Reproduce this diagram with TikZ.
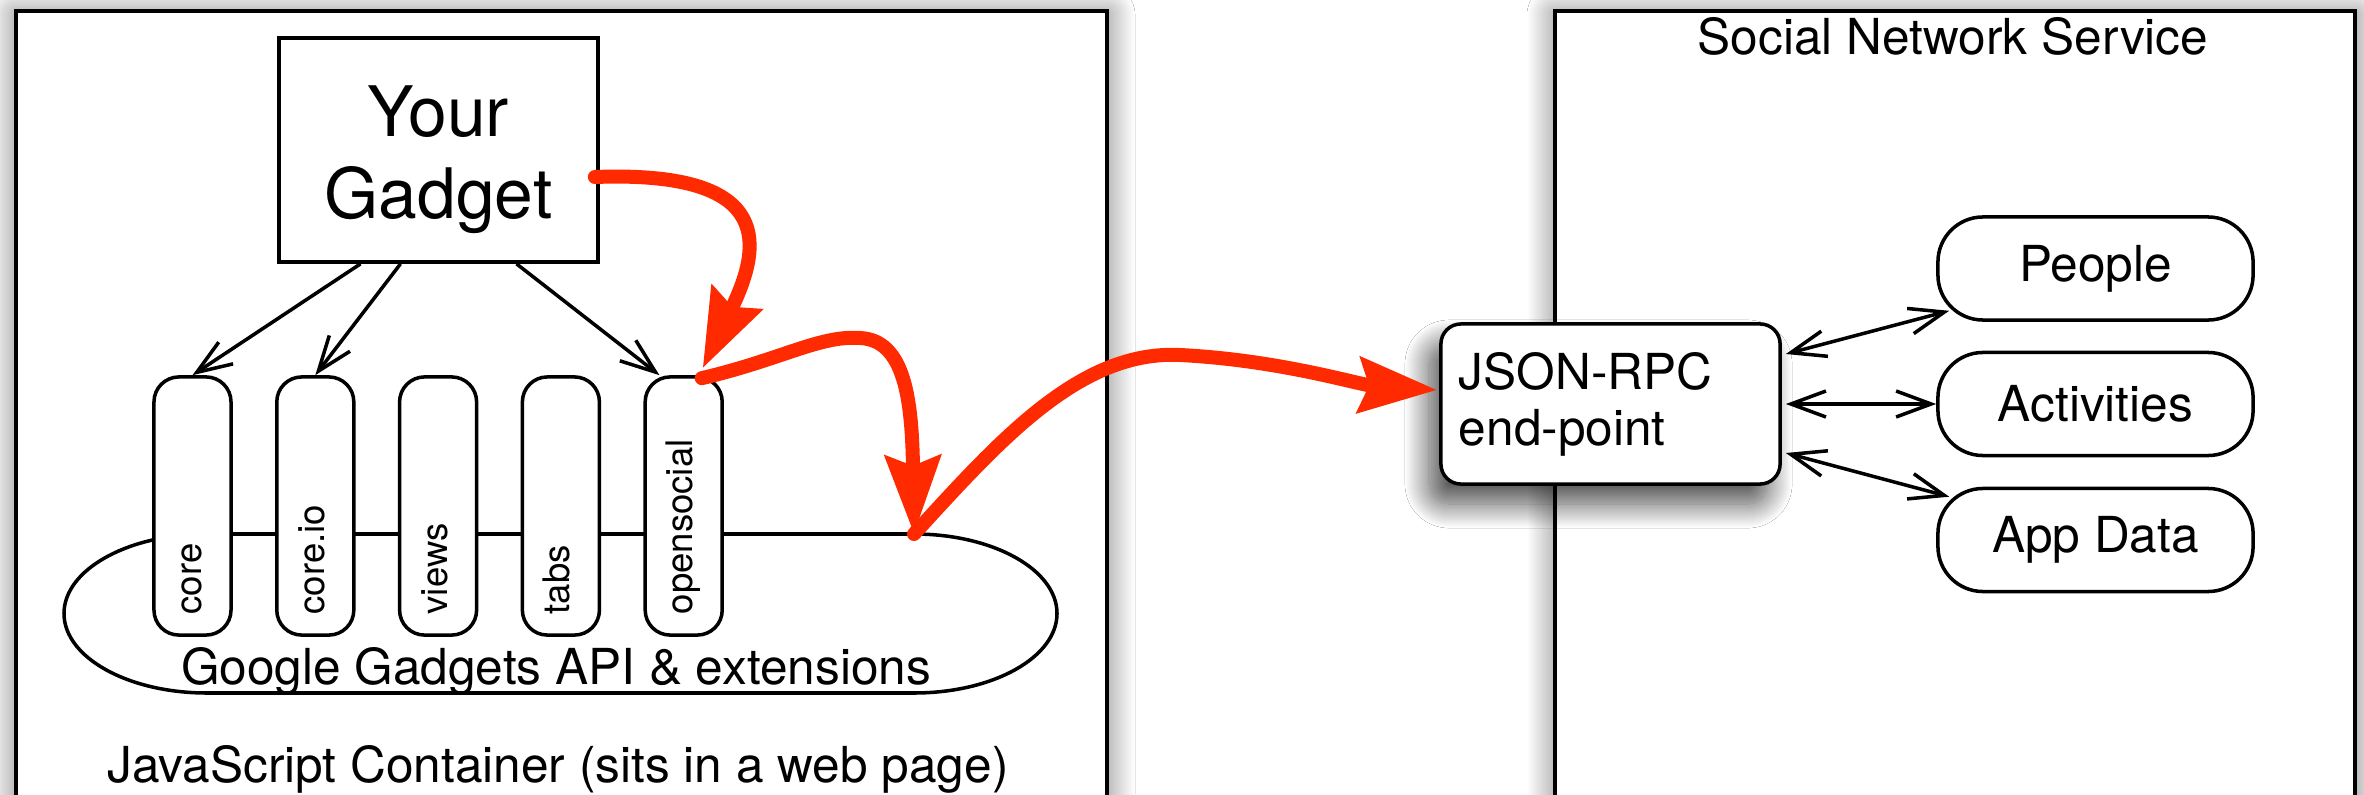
\documentclass[tikz,border=0pt]{standalone}
\usepackage{fontspec}
\setmainfont{TeX Gyre Heros}
\usepackage{tikz}
\usetikzlibrary{arrows.meta,calc,positioning,shadows.blur}
\definecolor{flowred}{RGB}{255,42,0}
\newcommand\MainSize{\fontsize{14.1pt}{15.9pt}\selectfont}
\newcommand\BigSize{\fontsize{19.8pt}{23.3pt}\selectfont}
\newcommand\SmallSize{\fontsize{10.4pt}{12pt}\selectfont}
\tikzset{
  container/.style={
    draw,
    line width=1.15pt,
    fill=white,
    blur shadow={shadow xshift=0pt, shadow yshift=-1pt,
      shadow blur radius=0.28cm, shadow blur steps=25, shadow opacity=55}
  },
  gadgetbox/.style={
    draw,
    line width=1pt,
    fill=white,
    minimum width=3.19cm,
    minimum height=2.24cm,
    align=center,
    font=\BigSize
  },
  module/.style={
    draw,
    line width=1pt,
    fill=white,
    rounded corners=0.25cm,
    minimum width=0.77cm,
    minimum height=2.58cm,
    inner sep=0pt
  },
  modlabel/.style={
    rotate=90,
    anchor=west,
    font=\SmallSize,
    inner sep=0pt,
    text height=0.26cm,
    text depth=0.08cm
  },
  endpoint/.style={
    draw,
    line width=1pt,
    fill=white,
    rounded corners=0.2cm,
    align=left,
    text width=3.03cm,
    inner xsep=0.18cm,
    minimum height=1.6cm,
    blur shadow={shadow xshift=-0.12cm, shadow yshift=-0.2cm,
      shadow blur radius=0.24cm, shadow blur steps=25, shadow opacity=70}
  },
  store/.style={
    draw,
    line width=1pt,
    fill=white,
    rounded corners=0.45cm,
    minimum width=3.15cm,
    minimum height=1.03cm
  },
  flow/.style={
    draw=flowred,
    line width=0.14cm,
    line cap=round,
    -{Stealth[length=0.78cm,width=0.55cm,inset=0.1cm]},
    flowred
  },
  >={Straight Barb[length=0.35cm,width=0.26cm]}
}

\begin{document}
\begin{tikzpicture}[x=0.01cm, y=-0.01cm, font=\MainSize]
  \useasboundingbox[fill=white] (0,0) rectangle (2364,794);

  % the two sides
  \path[container] (16,11) rectangle (1107,850);
  \path[container] (1555,11) rectangle (2355,850);

  % gadgets API ring
  \coordinate (apitop) at (914,534);
  \draw[line width=1pt, fill=white] (207,534) -- (apitop)
    arc[start angle=-90, end angle=90, x radius=143, y radius=79.5] -- (207,693)
    arc[start angle=90, end angle=270, x radius=143, y radius=79.5] -- cycle;
  \node[anchor=base] (apitext) at (556,684) {Google Gadgets API \& extensions};

  \foreach \name/\lbl [count=\i from 0] in {core/core, coreio/core.io, views/views, tabs/tabs, os/opensocial} {
    \node[module] (\name) at (192.5+122.8*\i, 506) {};
    \node[modlabel] (\name-label) at (192.5+122.8*\i, 615) {\lbl};
  }

  \node[gadgetbox] (gadget) at (438.5,150) {\rule{0pt}{0.7cm}Your\\Gadget};

  \draw[->, line width=1pt] ($(gadget.south)+(-78,0)$) -- (core.north);
  \draw[->, line width=1pt] ($(gadget.south)+(-38,0)$) -- (coreio.north);
  \draw[->, line width=1pt] ($(gadget.south)+(78,0)$) -- ($(os.north west)+(16,0)$);

  \node[anchor=base] (jstext) at (558,782) {JavaScript Container (sits in a web page)};

  % service side
  \node[anchor=base] (snstitle) at (1953,55) {Social Network Service};
  \node[endpoint] (json) at (1610.5,404) {JSON-RPC\\end-point};

  \node[store] (people) at (2095.5,268.5) {People};
  \node[store] (activities) at (2095.5,404) {Activities};
  \node[store] (appdata) at (2095.5,540) {App Data};

  \draw[<->, line width=1pt] ($(json.east)+(4,-50)$) -- ($(people.south west)+(13,-11)$);
  \draw[<->, line width=1pt] ($(json.east)+(4,0)$) -- (activities.west);
  \draw[<->, line width=1pt] ($(json.east)+(4,49)$) -- ($(appdata.north west)+(13,10)$);

  % the request path
  \draw[flow] ($(gadget.east)+(-5,27)$) .. controls (780,170) and (760,250) .. ($(os.north)+(19,-7)$);
  \draw[flow] ($(os.north)+(18,3)$) .. controls (780,360) and (820,335) .. (860,338)
    .. controls (905,340) and (912,400) .. (apitop);
  \draw[flow] (apitop) .. controls (1000,440) and (1080,350) .. (1180,355)
    .. controls (1280,360) and (1360,385) .. ($(json.west)+(-2,-14)$);
\end{tikzpicture}
\end{document}
